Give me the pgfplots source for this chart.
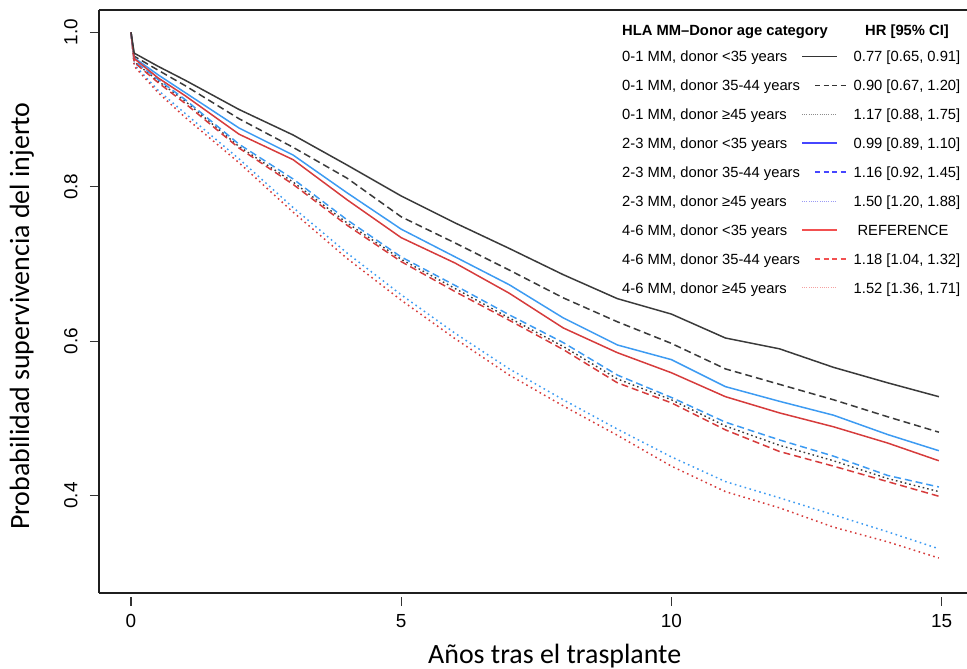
\documentclass[border=0pt]{standalone}
\usepackage{fontspec}
\usepackage{pgfplots}
\usepackage{pgfplotstable}
\pgfplotsset{compat=1.18}
\setmainfont{Liberation Sans}
\newfontfamily\labfont{Carlito}
\newcommand\legfont{\fontsize{14.8}{17}\selectfont}
\definecolor{kcol}{HTML}{3A3A3A}
\definecolor{bcol}{HTML}{3D9BF2}
\definecolor{rcol}{HTML}{D63C3C}
\definecolor{legblack}{HTML}{333333}
\definecolor{legblue}{RGB}{70,70,255}
\definecolor{legbluelight}{HTML}{9A9AF5}
\definecolor{legred}{HTML}{F25050}
\definecolor{legredlight}{HTML}{F5A0A0}

% t: years; k=0-1 MM, b=2-3 MM, r=4-6 MM; s=<35, d=35-44, t=>=45
\pgfplotstableread{
t     ks     kd     kt     bs     bd     bt     rs     rd     rt
0     1.000  1.000  1.000  1.000  1.000  1.000  1.000  1.000  1.000
0.06  0.973  0.969  0.962  0.967  0.963  0.958  0.966  0.961  0.956
0.5   0.956  0.951  0.937  0.945  0.939  0.925  0.941  0.935  0.922
1     0.938  0.931  0.911  0.922  0.913  0.895  0.918  0.908  0.890
2     0.900  0.888  0.852  0.876  0.855  0.836  0.868  0.850  0.831
3     0.867  0.851  0.806  0.841  0.810  0.773  0.835  0.803  0.767
4     0.828  0.811  0.753  0.792  0.757  0.714  0.783  0.750  0.707
5     0.788  0.761  0.706  0.745  0.709  0.660  0.734  0.703  0.653
6     0.753  0.727  0.668  0.709  0.672  0.610  0.701  0.664  0.603
7     0.720  0.692  0.630  0.673  0.634  0.564  0.662  0.627  0.556
8     0.686  0.656  0.593  0.630  0.598  0.524  0.617  0.589  0.516
9     0.655  0.625  0.551  0.595  0.556  0.486  0.585  0.546  0.478
10    0.635  0.597  0.524  0.576  0.527  0.450  0.559  0.520  0.438
11    0.604  0.564  0.490  0.541  0.495  0.418  0.528  0.485  0.405
12    0.590  0.544  0.465  0.522  0.472  0.397  0.507  0.457  0.384
13    0.566  0.524  0.445  0.504  0.451  0.375  0.489  0.438  0.359
14    0.546  0.502  0.422  0.479  0.426  0.353  0.468  0.418  0.340
14.95 0.528  0.482  0.405  0.458  0.411  0.331  0.445  0.399  0.319
}\surv

\begin{document}
\begin{tikzpicture}
\path[use as bounding box] (-99bp,-76bp) rectangle (868bp,593bp);
\begin{axis}[
  at={(0,0)}, anchor=south west, scale only axis,
  width=868bp, height=583bp,
  xmin=-0.592, xmax=15.47, ymin=0.2737, ymax=1.0289,
  axis x line*=bottom, axis y line*=left,
  axis line style={-, line width=1.6bp, draw=black!88},
  xtick={0,5,10,15}, ytick={0.4,0.6,0.8,1.0},
  tick align=outside, major tick length=9bp,
  tick style={line width=1.2bp, draw=black!80},
  xtick style={yshift=-4bp},
  xticklabel shift=9bp,
  yticklabel shift=9bp,
  /pgf/number format/assume math mode=true,
  tick label style={font=\fontsize{19}{22}\selectfont},
  yticklabel style={rotate=90, anchor=south, /pgf/number format/.cd, fixed, fixed zerofill, precision=1},
  xlabel={Años tras el trasplante},
  ylabel={Probabilidad supervivencia del injerto},
  label style={font=\labfont\fontsize{28}{32}\selectfont},
  xlabel style={at={(rel axis cs:0.525,-0.1201)}, anchor=base},
  ylabel style={at={(rel axis cs:-0.0806,0.475)}, anchor=base},
  no markers,
]
\draw[line width=1.6bp, black!88] (rel axis cs:0,1) -- (rel axis cs:1,1);
\addplot[kcol, line width=1.4bp, dash pattern=on 1.6bp off 3bp] table[x=t,y=kt]{\surv};
\addplot[bcol, line width=1.5bp, dash pattern=on 1.6bp off 3.5bp] table[x=t,y=bt]{\surv};
\addplot[rcol, line width=1.5bp, dash pattern=on 1.6bp off 3.5bp] table[x=t,y=rt]{\surv};
\addplot[bcol, line width=1.5bp, dash pattern=on 7bp off 4bp] table[x=t,y=bd]{\surv};
\addplot[rcol, line width=1.5bp, dash pattern=on 7bp off 4bp] table[x=t,y=rd]{\surv};
\addplot[kcol, line width=1.5bp, dash pattern=on 7bp off 4bp] table[x=t,y=kd]{\surv};
\addplot[bcol, line width=1.5bp] table[x=t,y=bs]{\surv};
\addplot[rcol, line width=1.5bp] table[x=t,y=rs]{\surv};
\addplot[kcol, line width=1.5bp] table[x=t,y=ks]{\surv};
\end{axis}

% legend
\begin{scope}[every node/.style={inner sep=0pt, font=\legfont}]
\node[anchor=base west, font=\legfont\bfseries] at (523bp,557.7bp) {HLA MM\textendash Donor age category};
\node[anchor=base, font=\legfont\bfseries] at (808bp,557.7bp) {HR [95\% CI]};

\node[anchor=base west] at (523bp,531bp) {0-1 MM, donor <35 years};
\node[anchor=base west] at (523bp,502.1bp) {0-1 MM, donor 35-44 years};
\node[anchor=base west] at (523bp,473.2bp) {0-1 MM, donor ≥45 years};
\node[anchor=base west] at (523bp,444.3bp) {2-3 MM, donor <35 years};
\node[anchor=base west] at (523bp,415.4bp) {2-3 MM, donor 35-44 years};
\node[anchor=base west] at (523bp,386.5bp) {2-3 MM, donor ≥45 years};
\node[anchor=base west] at (523bp,357.6bp) {4-6 MM, donor <35 years};
\node[anchor=base west] at (523bp,328.7bp) {4-6 MM, donor 35-44 years};
\node[anchor=base west] at (523bp,299.8bp) {4-6 MM, donor ≥45 years};

\node[anchor=base] at (808bp,531bp) {0.77 [0.65, 0.91]};
\node[anchor=base] at (808bp,502.1bp) {0.90 [0.67, 1.20]};
\node[anchor=base] at (808bp,473.2bp) {1.17 [0.88, 1.75]};
\node[anchor=base] at (808bp,444.3bp) {0.99 [0.89, 1.10]};
\node[anchor=base] at (808bp,415.4bp) {1.16 [0.92, 1.45]};
\node[anchor=base] at (808bp,386.5bp) {1.50 [1.20, 1.88]};
\node[anchor=base] at (804bp,357.6bp) {REFERENCE};
\node[anchor=base] at (808bp,328.7bp) {1.18 [1.04, 1.32]};
\node[anchor=base] at (808bp,299.8bp) {1.52 [1.36, 1.71]};
\end{scope}
\draw[color=legblack, line width=1.4bp] (703bp,536.3bp) -- (738bp,536.3bp);
\draw[color=legblack, line width=1.4bp, dash pattern=on 5bp off 3.5bp] (716bp,507.4bp) -- (748bp,507.4bp);
\draw[color=black!45, line width=1.2bp, dash pattern=on 1bp off 1.2bp] (703bp,478.5bp) -- (738bp,478.5bp);
\fill[legblue] (703bp,448.6bp) rectangle (738bp,450.6bp);
\draw[color=legblue, line width=1.6bp, dash pattern=on 5bp off 3.5bp] (716bp,420.7bp) -- (748bp,420.7bp);
\draw[color=legbluelight, line width=1.2bp, dash pattern=on 1bp off 1.2bp] (703bp,391.8bp) -- (738bp,391.8bp);
\draw[color=legred, line width=1.6bp] (703bp,362.9bp) -- (738bp,362.9bp);
\draw[color=legred, line width=1.6bp, dash pattern=on 5bp off 3.5bp] (716bp,334bp) -- (748bp,334bp);
\draw[color=legredlight, line width=1.2bp, dash pattern=on 1bp off 1.2bp] (703bp,305.1bp) -- (738bp,305.1bp);
\end{tikzpicture}
\end{document}
